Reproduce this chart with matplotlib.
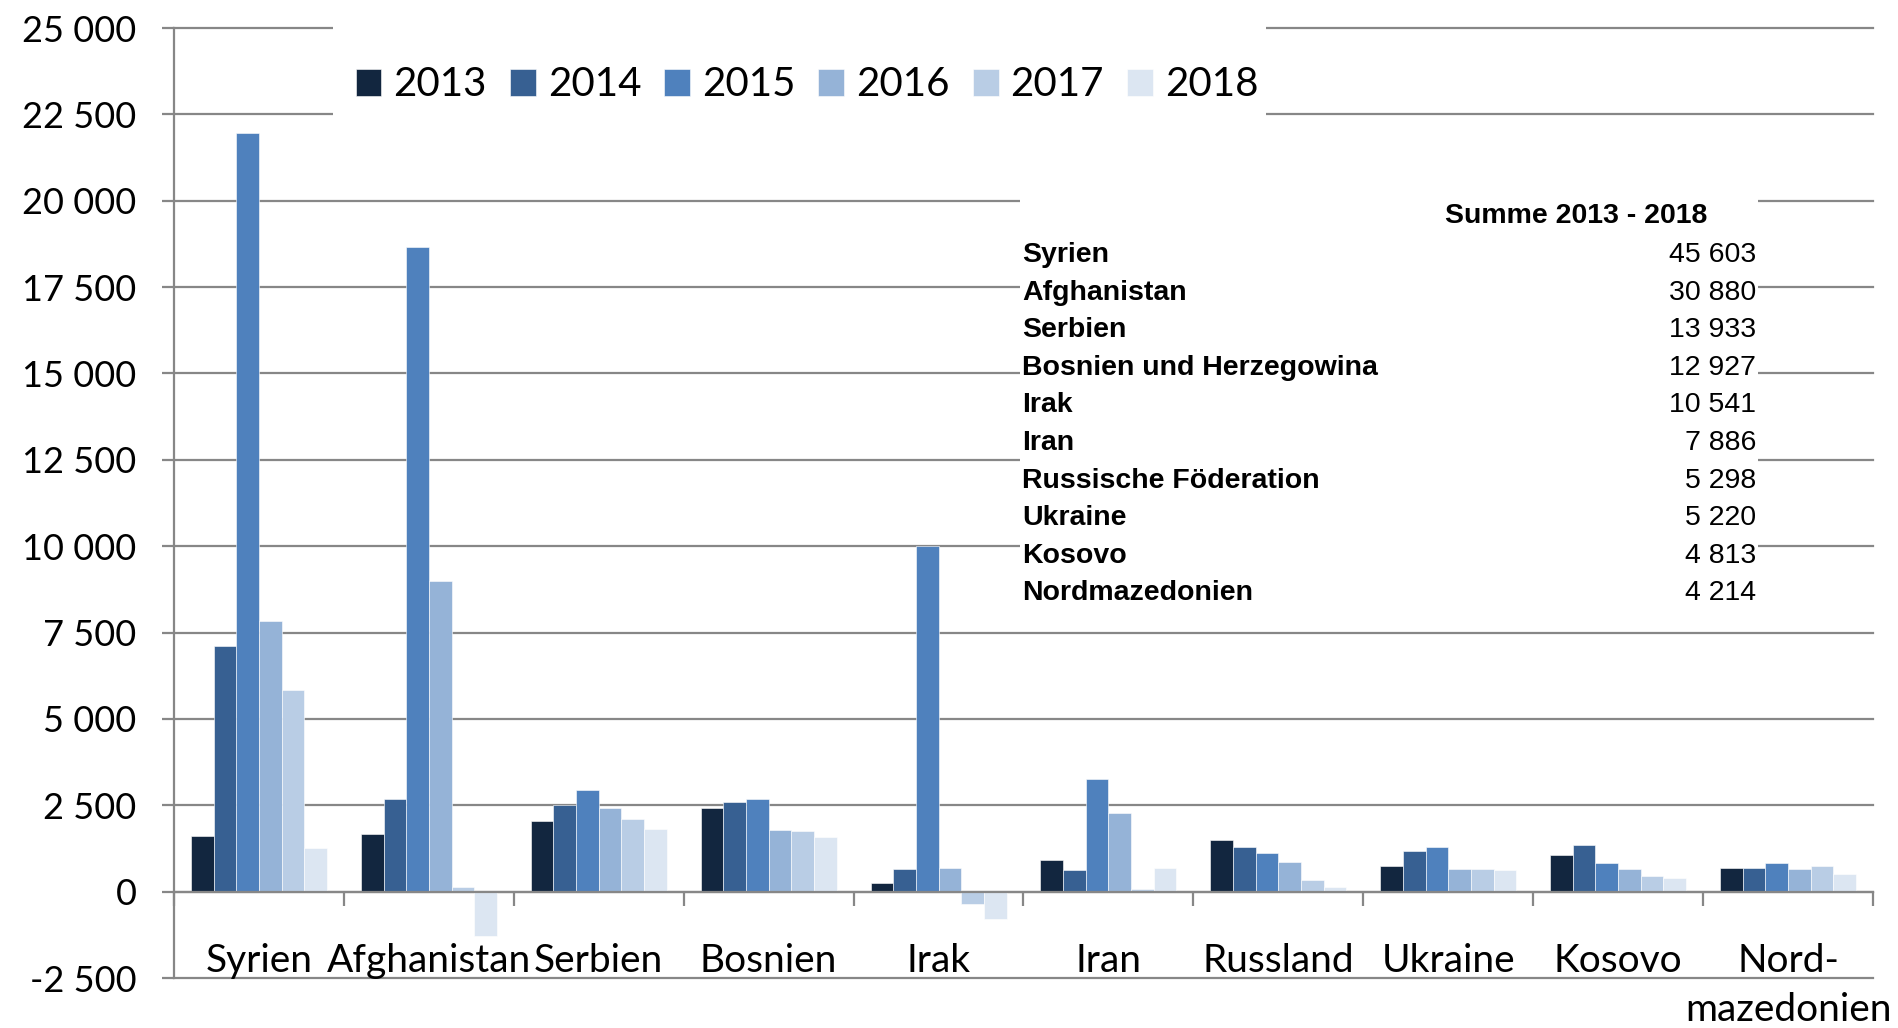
import matplotlib
matplotlib.use('Agg')
import matplotlib.pyplot as plt
import numpy as np
from matplotlib.patches import Rectangle
from matplotlib.ticker import FixedLocator, FuncFormatter

# ---------------- data ----------------
years = ['2013', '2014', '2015', '2016', '2017', '2018']
categories = ['Syrien', 'Afghanistan', 'Serbien', 'Bosnien', 'Irak', 'Iran',
              'Russland', 'Ukraine', 'Kosovo', 'Nord-\nmazedonien']
v2013 = [1600, 1680, 2040, 2410, 260, 910, 1500, 740, 1070, 670]
v2014 = [7110, 2690, 2520, 2600, 665, 630, 1305, 1185, 1360, 695]
v2015 = [21950, 18650, 2930, 2690, 10000, 3260, 1125, 1295, 825, 815]
v2016 = [7830, 8985, 2435, 1795, 695, 2265, 845, 665, 645, 665]
v2017 = [5830, 140, 2115, 1765, -365, 65, 345, 645, 450, 730]
v2018 = [1260, -1290, 1815, 1570, -790, 695, 130, 620, 400, 525]
series = [v2013, v2014, v2015, v2016, v2017, v2018]

yticks = [-2500, 0, 2500, 5000, 7500, 10000, 12500, 15000, 17500, 20000, 22500, 25000]

table_header = 'Summe 2013 - 2018'
table_names = ['Syrien', 'Afghanistan', 'Serbien', 'Bosnien und Herzegowina', 'Irak',
               'Iran', 'Russische Föderation', 'Ukraine', 'Kosovo', 'Nordmazedonien']
table_sums = ['45 603', '30 880', '13 933', '12 927', '10 541',
              '7 886', '5 298', '5 220', '4 813', '4 214']

colors = ['#12263F', '#376092', '#4F81BD', '#95B3D7', '#B9CDE5', '#DCE6F2']
GRID = '#878787'

# ---------------- figure ----------------
W, H = 1899, 1028
fig = plt.figure(figsize=(W / 100, H / 100), dpi=100)
fx = lambda px: px / W
fy = lambda py: 1 - py / H

ax = fig.add_axes([fx(174), fy(978), fx(1873) - fx(174), fy(28) - fy(978)])
ax.set_xlim(-0.5, len(categories) - 0.5)
ax.set_ylim(-2500, 25000)

x = np.arange(len(categories))
n = len(series)
bw = 0.8 / n
handles = []
for i, (vals, c, yr) in enumerate(zip(series, colors, years)):
    b = ax.bar(x - 0.4 + bw * (i + 0.5), vals, width=bw, color=c,
               edgecolor='white', linewidth=0.4, zorder=2, label=yr)
    handles.append(b)

# gridlines
for t in yticks:
    ax.axhline(t, color=GRID, lw=1.6, zorder=0, clip_on=False)

# spines
for s in ['top', 'right']:
    ax.spines[s].set_visible(False)
ax.spines['left'].set_color(GRID)
ax.spines['left'].set_linewidth(1.6)
ax.spines['bottom'].set_position(('data', 0))
ax.spines['bottom'].set_color(GRID)
ax.spines['bottom'].set_linewidth(1.6)

lato = 'Lato'
ax.yaxis.set_major_locator(FixedLocator(yticks))
ax.yaxis.set_major_formatter(FuncFormatter(
    lambda v, p: ('-' if v < 0 else '') + f'{abs(int(v)):,}'.replace(',', ' ')))
ax.tick_params(axis='y', length=9, width=1.6, color=GRID, pad=18,
               labelsize=26, labelcolor='black')
for lab in ax.get_yticklabels():
    lab.set_family(lato)

ax.set_xticks(x)
ax.set_xticklabels(categories, family=lato, fontsize=28, linespacing=1.45)
ax.tick_params(axis='x', which='major', length=0, pad=37)
ax.set_xticks(np.arange(-0.5, len(categories), 1.0), minor=True)
ax.tick_params(axis='x', which='minor', length=10, width=1.6, color=GRID, direction='out')

# white box behind legend
ax.add_patch(Rectangle((fx(333), fy(125)), fx(1266) - fx(333), fy(10) - fy(125),
                       transform=fig.transFigure, facecolor='white', edgecolor='none',
                       zorder=3, clip_on=False))
leg = ax.legend(handles=handles, ncol=6, loc='center',
                bbox_to_anchor=(fx(807), fy(85)), bbox_transform=fig.transFigure,
                frameon=False, prop={'family': lato, 'size': 29},
                handlelength=0.64, handleheight=0.67, handletextpad=0.3,
                columnspacing=0.57, borderpad=0)
leg.set_zorder(5)

# table box
ax.add_patch(Rectangle((fx(1020), fy(612)), fx(1758) - fx(1020), fy(182) - fy(612),
                       transform=fig.transFigure, facecolor='white', edgecolor='none',
                       zorder=3, clip_on=False))
tfont = 'Liberation Sans'
ax.text(fx(1576), fy(216), table_header, transform=fig.transFigure, ha='center', va='center',
        fontsize=20.5, fontweight='bold', family=tfont, zorder=4)
for i, (nm, sm) in enumerate(zip(table_names, table_sums)):
    yy = 255 + i * 37.6
    ax.text(fx(1022), fy(yy), nm, transform=fig.transFigure, ha='left', va='center',
            fontsize=20.5, fontweight='bold', family=tfont, zorder=4)
    ax.text(fx(1756), fy(yy), sm, transform=fig.transFigure, ha='right', va='center',
            fontsize=20.5, family=tfont, zorder=4)

fig.savefig('out.png', dpi=100)
